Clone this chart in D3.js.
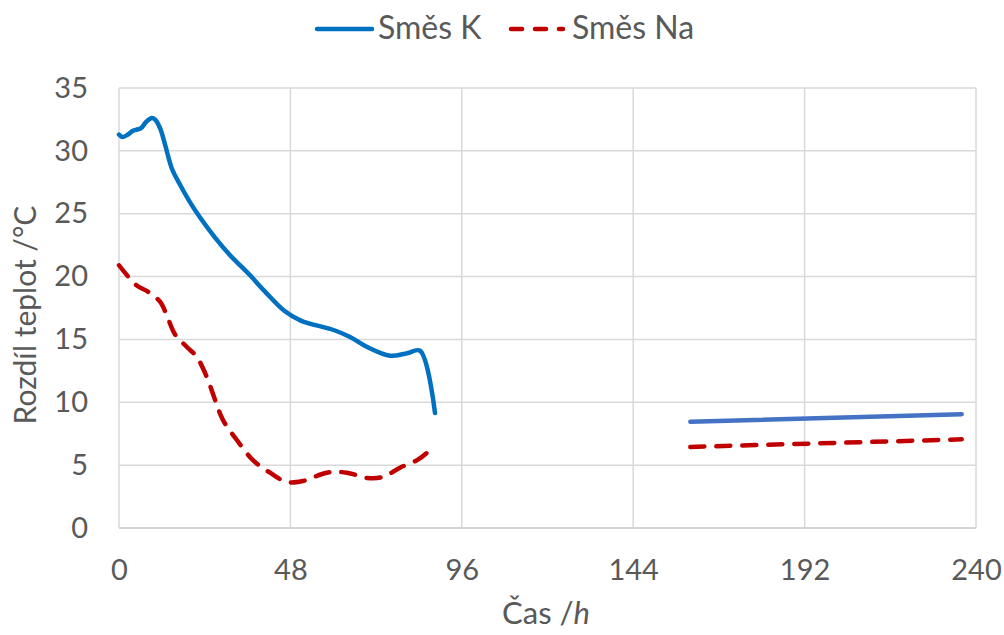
<!DOCTYPE html>
<html>
<head>
<meta charset="utf-8">
<script src="https://cdn.jsdelivr.net/npm/d3@7"></script>
<style>
  body { margin: 0; background: #fff; }
  text { font-family: Lato, "Open Sans", sans-serif; fill: #595959; }
</style>
</head>
<body>
<div id="chart"></div>
<script>
// hours since start
const hoursK = [0, 1.1, 2.5, 3.9, 5.0, 6.2, 7.6, 9.0, 10.1, 11.5, 12.9, 14.8, 17.1, 19.9, 22.7, 26.9,
  31.1, 36.7, 40.9, 46.2, 50.9, 60.1, 64.7, 69.5, 75.9, 80.7, 84.3, 88.5];
const valuesK = [31.3, 31.1, 31.3, 31.6, 31.7, 31.8, 32.3, 32.6, 32.5, 31.8, 30.5, 28.6, 27.3, 25.9, 24.7, 23.1,
  21.7, 20.1, 18.8, 17.3, 16.5, 15.75, 15.2, 14.4, 13.7, 13.9, 14.1, 9.15];
const hoursNa = [0, 4.9, 8.1, 11.5, 13.4, 15.7, 19.0, 21.8, 24.6, 26.9, 29.1, 33.0, 37.5, 42.3, 47.0,
  51.5, 58.2, 63.8, 69.5, 73.9, 78.7, 83.5, 86.5, 87.5];
const valuesNa = [20.9, 19.3, 18.8, 18.0, 16.9, 15.4, 14.4, 13.6, 12.0, 10.2, 8.6, 7.0, 5.4, 4.4, 3.66,
  3.74, 4.4, 4.4, 3.98, 4.06, 4.8, 5.4, 6.05, 6.4];
// later measurement stretch
const hoursLate = [160, 236];
const valuesLateK = [8.45, 9.05];
const valuesLateNa = [6.45, 7.05];

const xTicks = [0, 48, 96, 144, 192, 240];
const yTicks = [0, 5, 10, 15, 20, 25, 30, 35];
const seriesNames = ["Směs K", "Směs Na"];

const width = 1004, height = 635;
const margin = { top: 88, right: 28, bottom: 107, left: 119 };
const innerW = width - margin.left - margin.right;
const innerH = height - margin.top - margin.bottom;

const svg = d3.select("#chart")
  .append("svg")
  .attr("width", width)
  .attr("height", height);

const g = svg.append("g")
  .attr("transform", `translate(${margin.left},${margin.top})`);

const x = d3.scaleLinear().domain([0, 240]).range([0, innerW]);
const y = d3.scaleLinear().domain([0, 35]).range([innerH, 0]);

// grid
g.selectAll(".hgrid")
  .data(yTicks)
  .enter()
  .append("line")
  .attr("x1", 0).attr("x2", innerW)
  .attr("y1", d => y(d)).attr("y2", d => y(d))
  .attr("stroke", "#d9d9d9").attr("stroke-width", 1.5);

g.selectAll(".vgrid")
  .data(xTicks)
  .enter()
  .append("line")
  .attr("x1", d => x(d)).attr("x2", d => x(d))
  .attr("y1", 0).attr("y2", innerH)
  .attr("stroke", "#d9d9d9").attr("stroke-width", 1.5);

// tick labels via d3 axes, domain hidden
const xAxis = d3.axisBottom(x).tickValues(xTicks).tickSize(0).tickPadding(31);
const yAxis = d3.axisLeft(y).tickValues(yTicks).tickSize(0).tickPadding(31);

g.append("g")
  .attr("transform", `translate(0,${innerH})`)
  .call(xAxis)
  .call(a => a.select(".domain").remove())
  .selectAll("text")
  .style("font-size", "29px").style("font-family", "Lato, sans-serif").attr("fill", "#595959");

g.append("g")
  .call(yAxis)
  .call(a => a.select(".domain").remove())
  .selectAll("text")
  .style("font-size", "29px").style("font-family", "Lato, sans-serif").attr("fill", "#595959");

// axis line over grid
g.append("line")
  .attr("x1", 0).attr("x2", innerW)
  .attr("y1", innerH).attr("y2", innerH)
  .attr("stroke", "#d0d0d0").attr("stroke-width", 1.5);

// axis titles
const xTitle = svg.append("text")
  .attr("x", 546)
  .attr("y", 624)
  .attr("text-anchor", "middle")
  .style("font-size", "31px");
xTitle.append("tspan").text("Čas /");
xTitle.append("tspan").style("font-style", "italic").text("h");

svg.append("text")
  .attr("transform", "translate(36,315) rotate(-90)")
  .attr("text-anchor", "middle")
  .style("font-size", "30px")
  .text("Rozdíl teplot /°C");

const line = d3.line()
  .x(d => x(d[0]))
  .y(d => y(d[1]))
  .curve(d3.curveCatmullRom.alpha(0.5));

const dataK = hoursK.map((h, i) => [h, valuesK[i]]);
const dataNa = hoursNa.map((h, i) => [h, valuesNa[i]]);
const lateK = hoursLate.map((h, i) => [h, valuesLateK[i]]);
const lateNa = hoursLate.map((h, i) => [h, valuesLateNa[i]]);

const dash = "14,12";

g.append("path").datum(dataNa)
  .attr("d", line)
  .attr("fill", "none").attr("stroke", "#c00000").attr("stroke-width", 4.5)
  .attr("stroke-linecap", "round").attr("stroke-dasharray", dash);

g.append("path").datum(dataK)
  .attr("d", line)
  .attr("fill", "none").attr("stroke", "#0070c0").attr("stroke-width", 4.5)
  .attr("stroke-linecap", "round").attr("stroke-linejoin", "round");

g.append("path").datum(lateNa)
  .attr("d", line)
  .attr("fill", "none").attr("stroke", "#c00000").attr("stroke-width", 4.5)
  .attr("stroke-linecap", "round").attr("stroke-dasharray", dash);

g.append("path").datum(lateK)
  .attr("d", line)
  .attr("fill", "none").attr("stroke", "#4472c4").attr("stroke-width", 4.5)
  .attr("stroke-linecap", "round");

// legend
const legend = svg.append("g").attr("transform", "translate(0,29)");
const legendItems = [
  { name: seriesNames[0], color: "#0070c0", dash: null, x: 317, len: 55 },
  { name: seriesNames[1], color: "#c00000", dash: "11,13", x: 511, len: 52 }
];
legendItems.forEach(it => {
  legend.append("line")
    .attr("x1", it.x).attr("x2", it.x + it.len)
    .attr("y1", 0).attr("y2", 0)
    .attr("stroke", it.color).attr("stroke-width", 4.5)
    .attr("stroke-linecap", "round")
    .attr("stroke-dasharray", it.dash);
  legend.append("text")
    .attr("x", it.x + it.len + (it.dash ? 9 : 6))
    .attr("y", 10)
    .style("font-size", "32px")
    .text(it.name);
});
</script>
</body>
</html>
